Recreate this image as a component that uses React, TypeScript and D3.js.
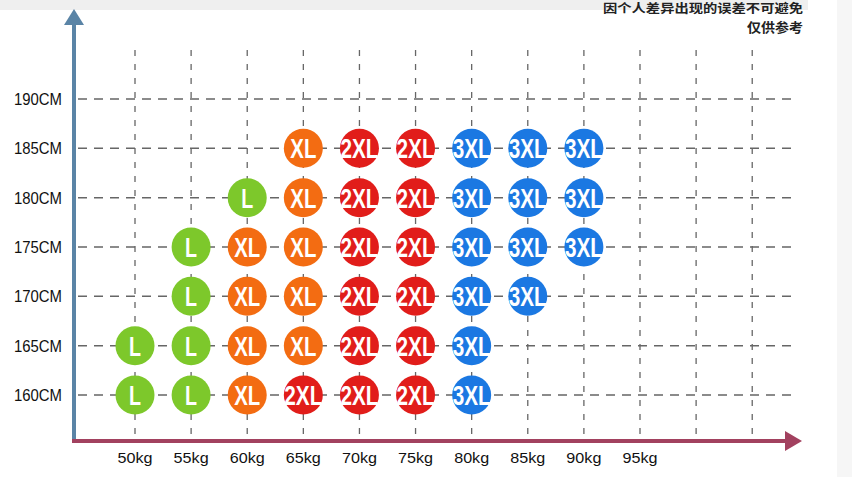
import React from "react";
import * as d3 from "d3";

const weights = [50, 55, 60, 65, 70, 75, 80, 85, 90, 95, 100, 105];
const weightLabels = ["50kg", "55kg", "60kg", "65kg", "70kg", "75kg", "80kg", "85kg", "90kg", "95kg"];
const heights = [160, 165, 170, 175, 180, 185, 190];
const heightLabels = ["160CM", "165CM", "170CM", "175CM", "180CM", "185CM", "190CM"];
const sizeW = [50, 50, 55, 55, 55, 55, 60, 60, 60, 60, 60, 65, 65, 65, 65, 65, 65, 70, 70, 70, 70, 70, 70, 75, 75, 75, 75, 75, 75, 80, 80, 80, 80, 80, 80, 85, 85, 85, 85, 90, 90, 90];
const sizeH = [160, 165, 160, 165, 170, 175, 160, 165, 170, 175, 180, 160, 165, 170, 175, 180, 185, 160, 165, 170, 175, 180, 185, 160, 165, 170, 175, 180, 185, 160, 165, 170, 175, 180, 185, 170, 175, 180, 185, 175, 180, 185];
const sizeLabel = ["L", "L", "L", "L", "L", "L", "XL", "XL", "XL", "XL", "L", "2XL", "XL", "XL", "XL", "XL", "XL", "2XL", "2XL", "2XL", "2XL", "2XL", "2XL", "2XL", "2XL", "2XL", "2XL", "2XL", "2XL", "3XL", "3XL", "3XL", "3XL", "3XL", "3XL", "3XL", "3XL", "3XL", "3XL", "3XL", "3XL", "3XL"];
const sizeNames = ["L", "XL", "2XL", "3XL"];
const sizeColors = ["#7dc82b", "#f36c12", "#e11d1a", "#1b78e2"];

export default function App() {
  const W = 852, H = 477;
  const x = d3.scaleLinear().domain([50, 95]).range([135, 640]);
  const y = d3.scaleLinear().domain([160, 190]).range([395, 99]);
  const color = d3.scaleOrdinal<string, string>().domain(sizeNames).range(sizeColors);
  const axisY = 441;
  const axisX = 74;
  const font = "'Liberation Sans', Arial, sans-serif";

  return (
    <svg width={W} height={H} style={{ position: "absolute", left: 0, top: 0, background: "#fff" }}>
      <rect x={0} y={0} width={808} height={10} fill="#efefef" />
      <rect x={837} y={0} width={15} height={H} fill="#f6f6f6" />
      <text x={803} y={13} textAnchor="end" fontFamily="'Noto Sans CJK SC'" fontWeight="bold" fontSize={12} fill="#222" textLength={200} lengthAdjust="spacingAndGlyphs">因个人差异出现的误差不可避免</text>
      <text x={803} y={32} textAnchor="end" fontFamily="'Noto Sans CJK SC'" fontWeight="bold" fontSize={13} fill="#222" textLength={56} lengthAdjust="spacingAndGlyphs">仅供参考</text>

      {/* grid */}
      {weights.map((w) => (
        <line key={"v" + w} x1={x(w)} x2={x(w)} y1={50} y2={axisY} stroke="#666" strokeWidth={1.3} strokeDasharray="6,8" />
      ))}
      {heights.map((h) => (
        <line key={"h" + h} x1={axisX + 4} x2={796} y1={y(h)} y2={y(h)} stroke="#666" strokeWidth={1.5} strokeDasharray="9,7" />
      ))}

      {/* axes */}
      <line x1={axisX} x2={axisX} y1={axisY + 2} y2={22} stroke="#5a84a6" strokeWidth={4} />
      <path d={`M${axisX},9 L${axisX - 10},25 L${axisX + 10},25 Z`} fill="#5a84a6" />
      <line x1={axisX - 2} x2={788} y1={axisY} y2={axisY} stroke="#a2415f" strokeWidth={4} />
      <path d={`M802,${axisY} L785,${axisY - 10} L785,${axisY + 10} Z`} fill="#a2415f" />

      {heights.map((h, i) => (
        <text key={"yl" + h} x={62} y={y(h) + 6} textAnchor="end" fontFamily={font} fontSize={16} fill="#111" textLength={48} lengthAdjust="spacingAndGlyphs">{heightLabels[i]}</text>
      ))}
      {weightLabels.map((l, i) => (
        <text key={"xl" + l} x={x(weights[i])} y={463} textAnchor="middle" fontFamily={font} fontSize={15} fill="#111" textLength={35} lengthAdjust="spacingAndGlyphs">{l}</text>
      ))}

      {sizeW.map((w, i) => {
        const lab = sizeLabel[i];
        const tl = lab.length === 1 ? 12 : lab.length === 2 ? 26 : 38;
        return (
          <g key={"c" + i}>
            <circle cx={x(w)} cy={y(sizeH[i])} r={19.5} fill={color(lab)} />
            <text x={x(w)} y={y(sizeH[i]) + 10} textAnchor="middle" fontFamily={font} fontWeight="bold" fontSize={27} fill="#fff" textLength={tl} lengthAdjust="spacingAndGlyphs">{lab}</text>
          </g>
        );
      })}
    </svg>
  );
}
